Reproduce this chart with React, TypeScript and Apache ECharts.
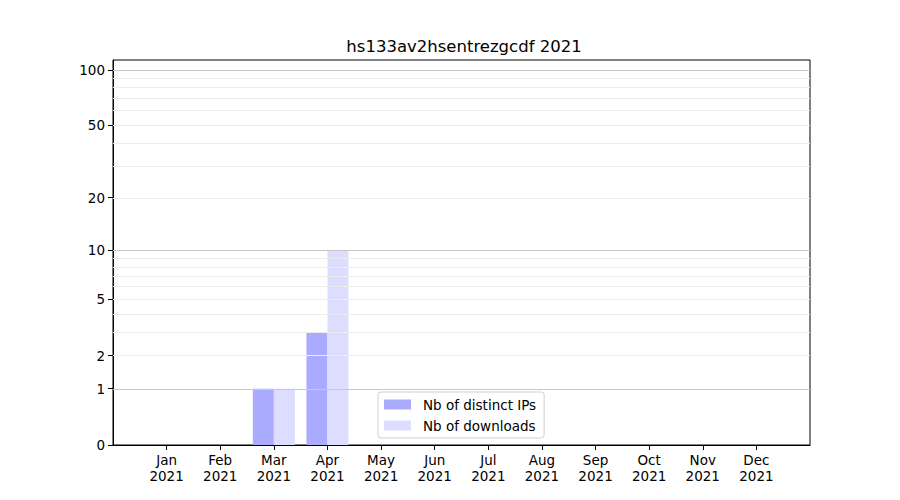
import React, { useEffect, useRef } from "react";
import * as echarts from "echarts";

const months = ["Jan", "Feb", "Mar", "Apr", "May", "Jun", "Jul", "Aug", "Sep", "Oct", "Nov", "Dec"];
const year = "2021";
const distinctIPs = [0, 0, 1, 3, 0, 0, 0, 0, 0, 0, 0, 0];
const downloads = [0, 0, 1, 10, 0, 0, 0, 0, 0, 0, 0, 0];
const yTickLabels = [0, 1, 2, 5, 10, 20, 50, 100];
const majorGrid = [1, 10, 100];
const minorGrid = [2, 3, 4, 5, 6, 7, 8, 9, 20, 30, 40, 50, 60, 70, 80, 90];
const yTop = 113;
const titleText = "hs133av2hsentrezgcdf 2021";

const tf = (v: number) => Math.log10(1 + v);
const FONT = "DejaVu Sans";

export default function App() {
  const ref = useRef<HTMLDivElement>(null);
  useEffect(() => {
    if (!ref.current) return;
    const chart = echarts.init(ref.current, undefined, { renderer: "svg" });
    const cats = ["", ...months.map((m) => `${m}\n${year}`), ""];
    const pad = (arr: number[]) => [null, ...arr.map(tf), null];
    chart.setOption({
      animation: false,
      textStyle: { fontFamily: FONT },
      title: {
        text: titleText,
        left: 459,
        textAlign: "center",
        top: 33,
        textStyle: { fontFamily: FONT, fontSize: 16.5, fontWeight: "normal", color: "#000" },
      },
      legend: {
        data: ["Nb of distinct IPs", "Nb of downloads"],
        orient: "vertical",
        left: 378,
        top: 392,
        padding: [5, 8, 5, 6],
        itemWidth: 27,
        itemHeight: 10,
        itemGap: 6,
        icon: "rect",
        backgroundColor: "#fff",
        borderColor: "#d0d0d0",
        borderWidth: 1,
        borderRadius: 3,
        textStyle: { fontFamily: FONT, fontSize: 13.5, color: "#000", lineHeight: 15, padding: [0, 0, 0, 7] },
      },
      grid: {
        left: 113,
        right: 90,
        top: 60,
        bottom: 55,
        show: true,
        borderColor: "#000",
        borderWidth: 1,
        backgroundColor: "transparent",
      },
      xAxis: {
        type: "category",
        data: cats,
        boundaryGap: false,
        axisLine: { lineStyle: { color: "#000", width: 1 } },
        axisTick: { show: true, length: 5, interval: (i: number) => i > 0 && i < cats.length - 1, lineStyle: { color: "#000" } },
        axisLabel: { interval: 0, color: "#000", fontFamily: FONT, fontSize: 13.5, lineHeight: 16, margin: 7 },
        splitLine: { show: false },
      },
      yAxis: {
        type: "value",
        min: 0,
        max: tf(yTop),
        axisLine: { show: true, lineStyle: { color: "#000", width: 1 } },
        axisTick: { show: true, length: 5, lineStyle: { color: "#000" }, customValues: yTickLabels.map(tf) },
        axisLabel: {
          color: "#000",
          fontFamily: FONT,
          fontSize: 13.5,
          margin: 8,
          customValues: yTickLabels.map(tf),
          formatter: (v: number) => String(Math.round(Math.pow(10, v) - 1)),
        },
        splitLine: { show: false },
      },
      series: [
        {
          type: "line",
          data: [],
          z: 1,
          silent: true,
          markLine: {
            silent: true,
            symbol: "none",
            label: { show: false },
            animation: false,
            data: [
              ...minorGrid.map((v) => ({ yAxis: tf(v), lineStyle: { color: "#ebebeb", width: 1, type: "solid" } })),
              ...majorGrid.map((v) => ({ yAxis: tf(v), lineStyle: { color: "#c8c8c8", width: 1, type: "solid" } })),
            ],
          },
        },
        {
          name: "Nb of distinct IPs",
          type: "bar",
          data: pad(distinctIPs),
          barWidth: 21,
          barGap: "0%",
          z: 2,
          itemStyle: { color: "#aaaaff" },
        },
        {
          name: "Nb of downloads",
          type: "bar",
          data: pad(downloads),
          barWidth: 21,
          barGap: "0%",
          z: 2,
          itemStyle: { color: "#ddddff" },
        },
      ],
    });
    return () => chart.dispose();
  }, []);
  return <div ref={ref} style={{ width: 900, height: 500, position: "absolute", left: 0, top: 0 }} />;
}
